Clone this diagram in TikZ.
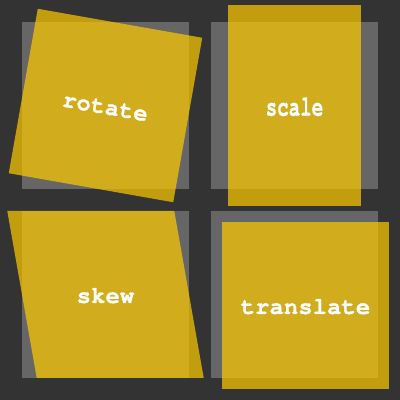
\documentclass[tikz,border=0pt]{standalone}
\usepackage{fontspec}
\newfontfamily\monofont{TeX Gyre Cursor}[BoldFeatures={FakeBold=0.6}]
\definecolor{bgdark}{HTML}{333333}
\definecolor{greysq}{HTML}{666666}
\definecolor{gold}{HTML}{FFCC00}
\begin{document}
\begin{tikzpicture}[x=1pt,y=1pt,
  greybox/.style={fill=greysq},
  goldbox/.style={fill=gold,fill opacity=0.7},
  lbl/.style={text=white,font=\monofont\bfseries\fontsize{24}{24}\selectfont,inner sep=0pt,anchor=base}]
\fill[bgdark] (0,0) rectangle (400,400);
\useasboundingbox (0,0) rectangle (400,400);
% grey reference squares
\fill[greybox] (22,211) rectangle (189,378);
\fill[greybox] (211,211) rectangle (378,378);
\fill[greybox] (22,22) rectangle (189,189);
\fill[greybox] (211,22) rectangle (378,189);
% rotate
\begin{scope}[shift={(105.5,294.5)},rotate=-10]
  \fill[goldbox] (-83.5,-83.5) rectangle (83.5,83.5);
  \node[lbl,transform shape] (rot) at (0,-8.5) {rotate};
\end{scope}
% scale
\begin{scope}[shift={(294.5,294.5)},xscale=0.8,yscale=1.2]
  \fill[goldbox] (-83.5,-83.5) rectangle (83.5,83.5);
  \node[lbl,transform shape] (scl) at (0,-8.5) {scale};
\end{scope}
% skew
\begin{scope}[shift={(105.5,105.5)},xslant=-0.1763]
  \fill[goldbox] (-83.5,-83.5) rectangle (83.5,83.5);
\end{scope}
\node[lbl] (skw) at (105.5,97) {skew};
% translate
\begin{scope}[shift={(305.5,94.5)}]
  \fill[goldbox] (-83.5,-83.5) rectangle (83.5,83.5);
  \node[lbl] (trn) at (0,-8.5) {translate};
\end{scope}
\end{tikzpicture}
\end{document}
